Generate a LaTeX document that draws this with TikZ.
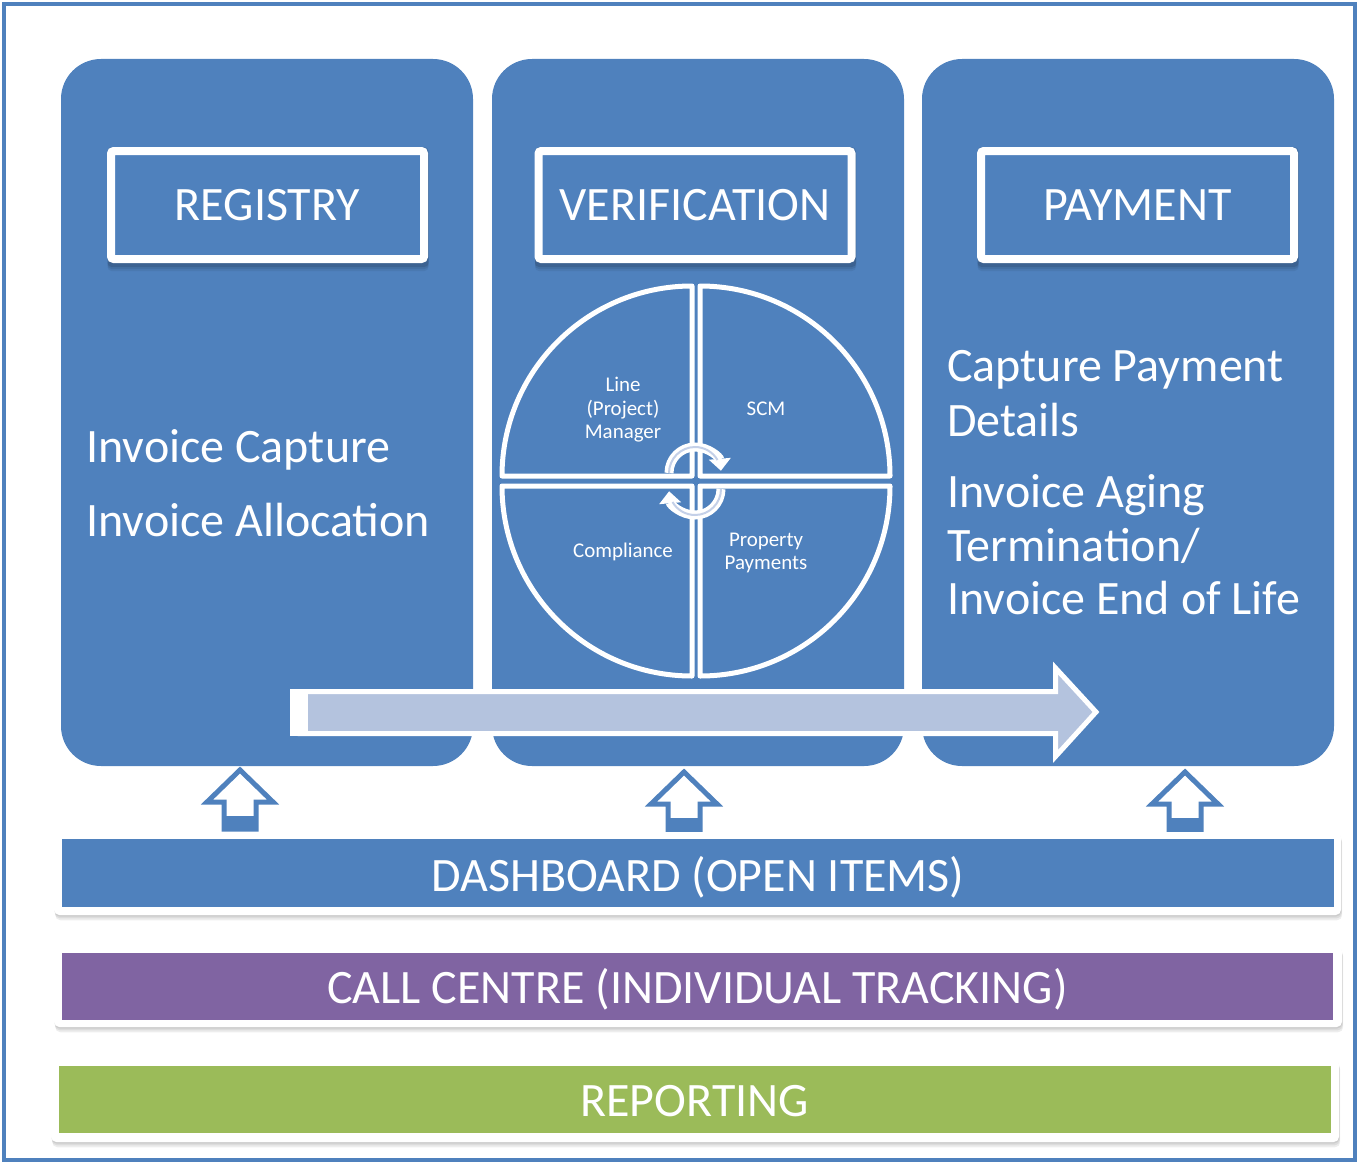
\documentclass[tikz,border=0pt]{standalone}
\usepackage{fontspec}
\setmainfont{Carlito}
\usetikzlibrary{arrows.meta}
\definecolor{colblue}{RGB}{79,129,189}
\definecolor{colpurple}{RGB}{128,100,162}
\definecolor{colgreen}{RGB}{155,187,89}
\definecolor{flowfill}{RGB}{180,195,222}
\definecolor{arcinner}{RGB}{196,208,232}
\newcommand\lblbig{\fontsize{36}{43}\selectfont}
\newcommand\lblsmall{\fontsize{15.7}{17.6}\selectfont}
\begin{document}
\begin{tikzpicture}[x=0.75pt,y=-0.75pt,
  softshadow/.style={
    preaction={fill=black, opacity=0.07, transform canvas={xshift=0.3pt, yshift=-1.2pt}},
    preaction={fill=black, opacity=0.07, transform canvas={xshift=0.6pt, yshift=-2.6pt}},
    preaction={fill=black, opacity=0.07, transform canvas={xshift=0.9pt, yshift=-4pt}}},
  column/.style={fill=colblue, rounded corners=30pt},
  headbox/.style={draw=white, line width=6pt, fill=colblue, rounded corners=2pt,
    minimum width=234.75pt, minimum height=81pt, inner sep=0pt, outer sep=0pt,
    text=white, font=\lblbig},
  headshadow/.style={fill=black, rounded corners=3pt},
  bigtxt/.style={text=white, font=\lblbig, inner sep=0pt},
  smalltxt/.style={text=white, font=\lblsmall, inner sep=0pt, align=center},
  quadrant/.style={draw=white, line width=3.75pt, fill=colblue, line join=round},
  arcout/.style={draw=white, line width=6.75pt, -{Triangle[width=16pt,length=9pt]}},
  arcin/.style={draw=arcinner, line width=1.5pt},
  flowarrow/.style={draw=white, fill=flowfill, line width=3.75pt, line join=miter},
  uparrow/.style={draw=colblue, fill=white, line width=3.75pt, line join=miter},
  barframe/.style={fill=white, rounded corners=4pt, inner sep=0pt, outer sep=0pt, softshadow},
  barfill/.style={inner sep=0pt, outer sep=0pt},
  bartxt/.style={text=white, font=\lblbig, inner sep=0pt, anchor=base}
]
\useasboundingbox (0,0) rectangle (1358,1163);

% outer frame
\draw[colblue, line width=3pt] (4,4) rectangle (1355,1160);

% three process columns
\fill[column] (61,59) rectangle (473,766);
\fill[column] (492,59) rectangle (904,766);
\fill[column] (922,59) rectangle (1334,766);

% soft shadows under the column headings
\foreach \hx in {267.5, 695, 1137.5} {
  \foreach \s/\o in {2/0.10, 4/0.08, 6/0.06}
    \fill[headshadow, opacity=\o] (\hx-160,145+\s) rectangle (\hx+161,265+\s);
}

% column headings
\node[headbox] (registry) at (267.5,205) {REGISTRY};
\node[headbox] (verification) at (695,205) {VERIFICATION};
\node[headbox] (payment) at (1137.5,205) {PAYMENT};

% registry tasks
\node[bigtxt, anchor=base west] (capture) at (86,462) {Invoice Capture};
\node[bigtxt, anchor=base west] (allocation) at (86,536) {Invoice Allocation};

% payment tasks
\node[bigtxt, anchor=base west] (paydet1) at (947,381) {Capture Payment};
\node[bigtxt, anchor=base west] (paydet2) at (947,436) {Details};
\node[bigtxt, anchor=base west] (aging) at (947,507) {Invoice Aging};
\node[bigtxt, anchor=base west] (term) at (947,561) {Termination/};
\node[bigtxt, anchor=base west] (endlife) at (947,614) {Invoice End of Life};

% verification cycle: four quadrants
\path[quadrant] (692,476) -- (502,476) arc[start angle=180, end angle=270, radius=190] -- cycle;
\path[quadrant] (700,476) -- (700,286) arc[start angle=270, end angle=360, radius=190] -- cycle;
\path[quadrant] (700,486) -- (890,486) arc[start angle=0, end angle=90, radius=190] -- cycle;
\path[quadrant] (692,486) -- (692,676) arc[start angle=90, end angle=180, radius=190] -- cycle;

\node[smalltxt] (linemgr) at (623,410) {Line\\(Project)\\Manager};
\node[smalltxt] (scm) at (766,409) {SCM};
\node[smalltxt] (compliance) at (623,552) {Compliance};
\node[smalltxt] (property) at (766,553) {Property\\Payments};

% cycle arrows in the middle
\draw[arcout] (695,473) ++(180:26) arc[start angle=180, end angle=355, radius=26];
\draw[arcin] (695,473) ++(180:26) arc[start angle=180, end angle=330, radius=26];
\draw[arcout] (695,489) ++(0:26) arc[start angle=0, end angle=175, radius=26];
\draw[arcin] (695,489) ++(0:26) arc[start angle=0, end angle=150, radius=26];

% process flow arrow
\draw[flowarrow] (300,691.5) -- (1055.5,691.5) -- (1055.5,668) -- (1096,712)
  -- (1055.5,756.5) -- (1055.5,733.5) -- (300,733.5) -- cycle;
\fill[white] (290,689) rectangle (308,736);

% feed arrows from the dashboard
\foreach \cx/\dy in {240/0, 684/2, 1185/2} {
  \draw[uparrow] (\cx,770+\dy) -- (\cx+33,802+\dy) -- (\cx+16,802+\dy)
    -- (\cx+16,829+\dy) -- (\cx-16,829+\dy) -- (\cx-16,802+\dy)
    -- (\cx-33,802+\dy) -- cycle;
  \fill[colblue] (\cx-18,816+\dy) rectangle (\cx+18,831+\dy);
}

% bottom bars
\node[barframe, minimum width=965.25pt, minimum height=62.25pt] (dashframe) at (697.5,873.5) {};
\node[barfill, fill=colblue, minimum width=954pt, minimum height=51pt] (dashbar) at (698,873) {};
\node[bartxt] (dashtxt) at (698,891) {DASHBOARD (OPEN ITEMS)};

\node[barframe, minimum width=966pt, minimum height=60.75pt] (callframe) at (698,986.5) {};
\node[barfill, fill=colpurple, minimum width=953.25pt, minimum height=50.25pt] (callbar) at (697.5,986.5) {};
\node[bartxt] (calltxt) at (697.5,1003) {CALL CENTRE (INDIVIDUAL TRACKING)};

\node[barframe, minimum width=966pt, minimum height=62.25pt] (repframe) at (695,1100.5) {};
\node[barfill, fill=colgreen, minimum width=954pt, minimum height=50.25pt] (repbar) at (695,1099.5) {};
\node[bartxt] (reptxt) at (694.5,1116) {REPORTING};
\end{tikzpicture}
\end{document}
